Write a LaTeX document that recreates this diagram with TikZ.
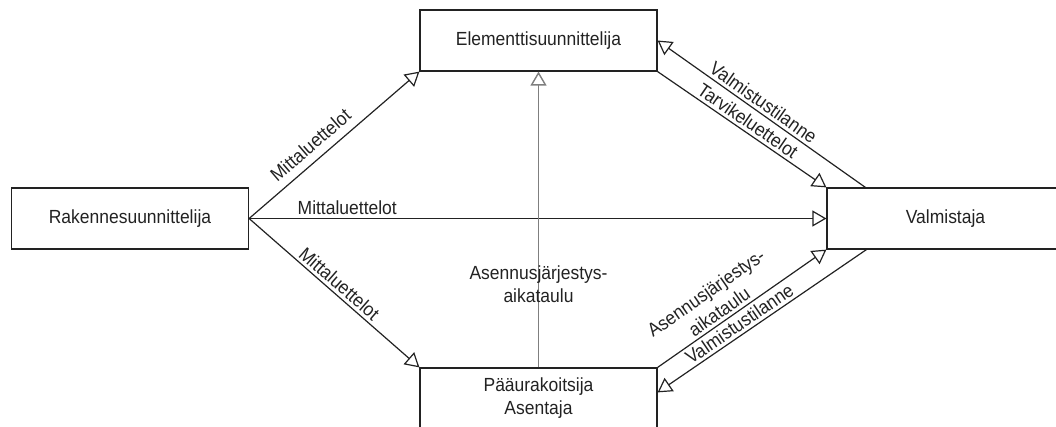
\documentclass[tikz,border=0pt]{standalone}
\usepackage{fontspec}
\setmainfont{Liberation Sans}[FakeStretch=0.92]
\usetikzlibrary{arrows.meta,calc}
\definecolor{ink}{HTML}{222222}
\definecolor{stem}{HTML}{7F7F7F}
\begin{document}
\begin{tikzpicture}[x=1pt,y=-1pt,
  every node/.style={font=\fontsize{19}{25}\selectfont, text=ink},
  party/.style={draw=ink, line width=1.2pt, minimum width=237pt, minimum height=61pt, inner sep=0pt, align=center},
  flow/.style={draw=ink, line width=1.2pt, -{Triangle[open,length=14pt,width=16pt]}},
  lbl/.style={sloped, above, inner sep=3pt, align=center},
  ]
  \useasboundingbox (0,0) rectangle (1056,426);
  \clip (0,0) rectangle (1056,426);
  % the four parties
  \node[party] (elem) at (538.5,40.5) {Elementtisuunnittelija};
  \node[party] (rak)  at (130,218.5) {Rakennesuunnittelija};
  \node[party] (val)  at (945.5,218.5) {Valmistaja};
  \node[party] (paa)  at (538.5,398.5) {Pääurakoitsija\\[-2pt]Asentaja};
  % free ends of the status reports
  \coordinate (valtop) at ($(val.north west)+(39,0)$);
  \coordinate (valbot) at ($(val.south west)+(40,0)$);
  \coordinate (paaside) at ($(paa.north east)+(0,25)$);
  % measurement lists from the structural designer
  \draw[flow] (rak.east) -- (elem.south west) node[lbl, pos=0.42, above=5pt] {Mittaluettelot};
  \draw[flow] (rak.east) -- (val.west) node[lbl, pos=0.17] {Mittaluettelot};
  \draw[flow] (rak.east) -- (paa.north west) node[lbl, pos=0.49] {Mittaluettelot};
  % installation schedule to the element designer
  \draw[flow, draw=stem, line width=1.4pt] (paa.north) -- (elem.south);
  \node[align=center] (sched) at (538.5,284) {Asennusjärjestys-\\[-2pt]aikataulu};
  % exchange between element designer and manufacturer
  \draw[flow] (valtop) -- (elem.east) node[lbl, pos=0.52] {Valmistustilanne};
  \draw[flow] (elem.south east) -- (val.north west) node[lbl, pos=0.50] {Tarvikeluettelot};
  % exchange between main contractor and manufacturer
  \draw[flow] (paa.north east) -- (val.south west) node[lbl, pos=0.40] {Asennusjärjestys-\\[-2pt]aikataulu};
  \draw[flow] (valbot) -- (paaside) node[lbl, pos=0.58] {Valmistustilanne};
\end{tikzpicture}
\end{document}
